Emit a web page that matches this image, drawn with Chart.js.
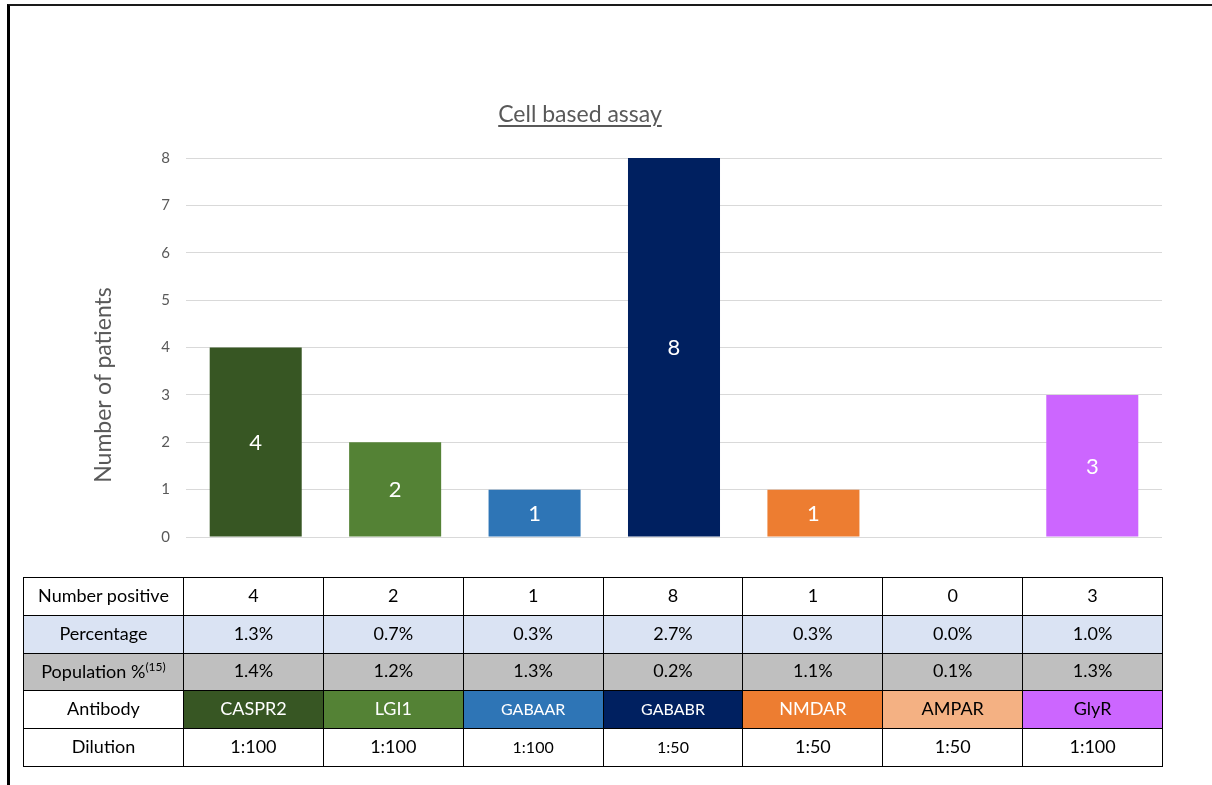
<!DOCTYPE html>
<html>
<head>
<meta charset="utf-8">
<script src="https://cdn.jsdelivr.net/npm/chart.js@4.4.1/dist/chart.umd.min.js"></script>
<style>
  html, body { margin: 0; padding: 0; background: #fff; }
  body { width: 1212px; height: 785px; position: relative; overflow: hidden; font-family: Lato, "Open Sans", sans-serif; }
  #frame { position: absolute; left: 7px; top: 4px; width: 1210px; height: 790px; border-top: 2px solid #1a1a1a; border-left: 3px solid #000; box-sizing: border-box; }
  #chart { position: absolute; left: 0; top: 0; }
  #title { position: absolute; left: 380px; width: 400px; top: 99px; text-align: center; font-size: 23px; color: #595959; text-decoration: underline; text-underline-offset: 3px; }
  #ytitle { position: absolute; left: 2px; top: 372px; width: 200px; text-align: center; font-size: 23px; color: #595959; transform: rotate(-90deg); transform-origin: 100px 13px; line-height: 26px; }
  #tbl { position: absolute; left: 23px; top: 577px; border-collapse: collapse; table-layout: fixed; width: 1139px; font-size: 18px; color: #000; }
  #tbl td { border: 1.5px solid #000; height: 33.8px; padding: 0 0 3px 0; text-align: center; vertical-align: middle; white-space: nowrap; }
  #tbl tr.pct td { background: #dae3f3; }
  #tbl tr.pop td { background: #bfbfbf; }
  #tbl td.small { font-size: 16px; }
  #tbl sup { font-size: 12px; }
</style>
</head>
<body>
<div id="frame"></div>
<canvas id="chart" width="1212" height="785"></canvas>
<div id="title">Cell based assay</div>
<div id="ytitle">Number of patients</div>
<table id="tbl"><colgroup id="cols"></colgroup><tbody id="tbody"></tbody></table>
<script>
// ---- data ----
const antibodies = ["CASPR2", "LGI1", "GABAAR", "GABABR", "NMDAR", "AMPAR", "GlyR"];
const numberPositive = [4, 2, 1, 8, 1, 0, 3];
const percentage = ["1.3%", "0.7%", "0.3%", "2.7%", "0.3%", "0.0%", "1.0%"];
const populationPct = ["1.4%", "1.2%", "1.3%", "0.2%", "1.1%", "0.1%", "1.3%"];
const dilution = ["1:100", "1:100", "1:100", "1:50", "1:50", "1:50", "1:100"];
const yTicks = [0, 1, 2, 3, 4, 5, 6, 7, 8];

// ---- styles ----
const barColors = ["#375623", "#548235", "#2e75b6", "#002060", "#ed7d31", "#f4b183", "#cc66ff"];
const abTextColors = ["#fff", "#fff", "#fff", "#fff", "#fff", "#000", "#000"];
const smallFontCols = [2, 3];

const valueLabels = {
  id: 'valueLabels',
  afterDatasetsDraw(chart) {
    const ctx = chart.ctx;
    const meta = chart.getDatasetMeta(0);
    ctx.save();
    ctx.font = '22px Lato, "Open Sans", sans-serif';
    ctx.fillStyle = '#ffffff';
    ctx.textAlign = 'center';
    ctx.textBaseline = 'middle';
    meta.data.forEach((bar, i) => {
      const v = chart.data.datasets[0].data[i];
      if (!v) return;
      ctx.fillText(String(v), bar.x, (bar.y + bar.base) / 2 + 1);
    });
    ctx.restore();
  }
};

new Chart(document.getElementById('chart'), {
  type: 'bar',
  data: {
    labels: antibodies,
    datasets: [{
      data: numberPositive,
      backgroundColor: barColors,
      borderWidth: 0,
      barPercentage: 0.66,
      categoryPercentage: 1.0
    }]
  },
  options: {
    responsive: false,
    animation: false,
    devicePixelRatio: 1,
    layout: { padding: { left: 120, right: 50, top: 158, bottom: 248 } },
    plugins: { legend: { display: false }, tooltip: { enabled: false }, title: { display: false } },
    scales: {
      x: { display: false },
      y: {
        min: 0, max: 8,
        afterFit(scale) { scale.width = 66; },
        afterBuildTicks(scale) { scale.ticks = yTicks.map(v => ({ value: v })); },
        border: { display: false },
        grid: { color: '#d9d9d9', lineWidth: 1, drawTicks: false },
        ticks: { color: '#595959', padding: 16, font: { family: 'Lato, "Open Sans", sans-serif', size: 15 } }
      }
    }
  },
  plugins: [valueLabels]
});

// ---- table ----
const cols = document.getElementById('cols');
const c0 = document.createElement('col'); c0.style.width = '160px'; cols.appendChild(c0);
antibodies.forEach(() => { const c = document.createElement('col'); c.style.width = '139.86px'; cols.appendChild(c); });
const tbody = document.getElementById('tbody');
function addRow(cls, headerHTML, values, styler) {
  const tr = document.createElement('tr');
  if (cls) tr.className = cls;
  const th = document.createElement('td');
  th.innerHTML = headerHTML;
  if (cls === 'ab') th.style.background = '#fff';
  tr.appendChild(th);
  values.forEach((v, i) => {
    const td = document.createElement('td');
    td.textContent = v;
    if (styler) styler(td, i);
    tr.appendChild(td);
  });
  tbody.appendChild(tr);
}
addRow('', 'Number positive', numberPositive.map(String));
addRow('pct', 'Percentage', percentage);
addRow('pop', 'Population %<sup>(15)</sup>', populationPct);
addRow('ab', 'Antibody', antibodies, (td, i) => {
  td.style.background = barColors[i];
  td.style.color = abTextColors[i];
  if (smallFontCols.includes(i)) td.className = 'small';
});
addRow('', 'Dilution', dilution, (td, i) => { if (smallFontCols.includes(i)) td.className = 'small'; });
</script>
</body>
</html>
